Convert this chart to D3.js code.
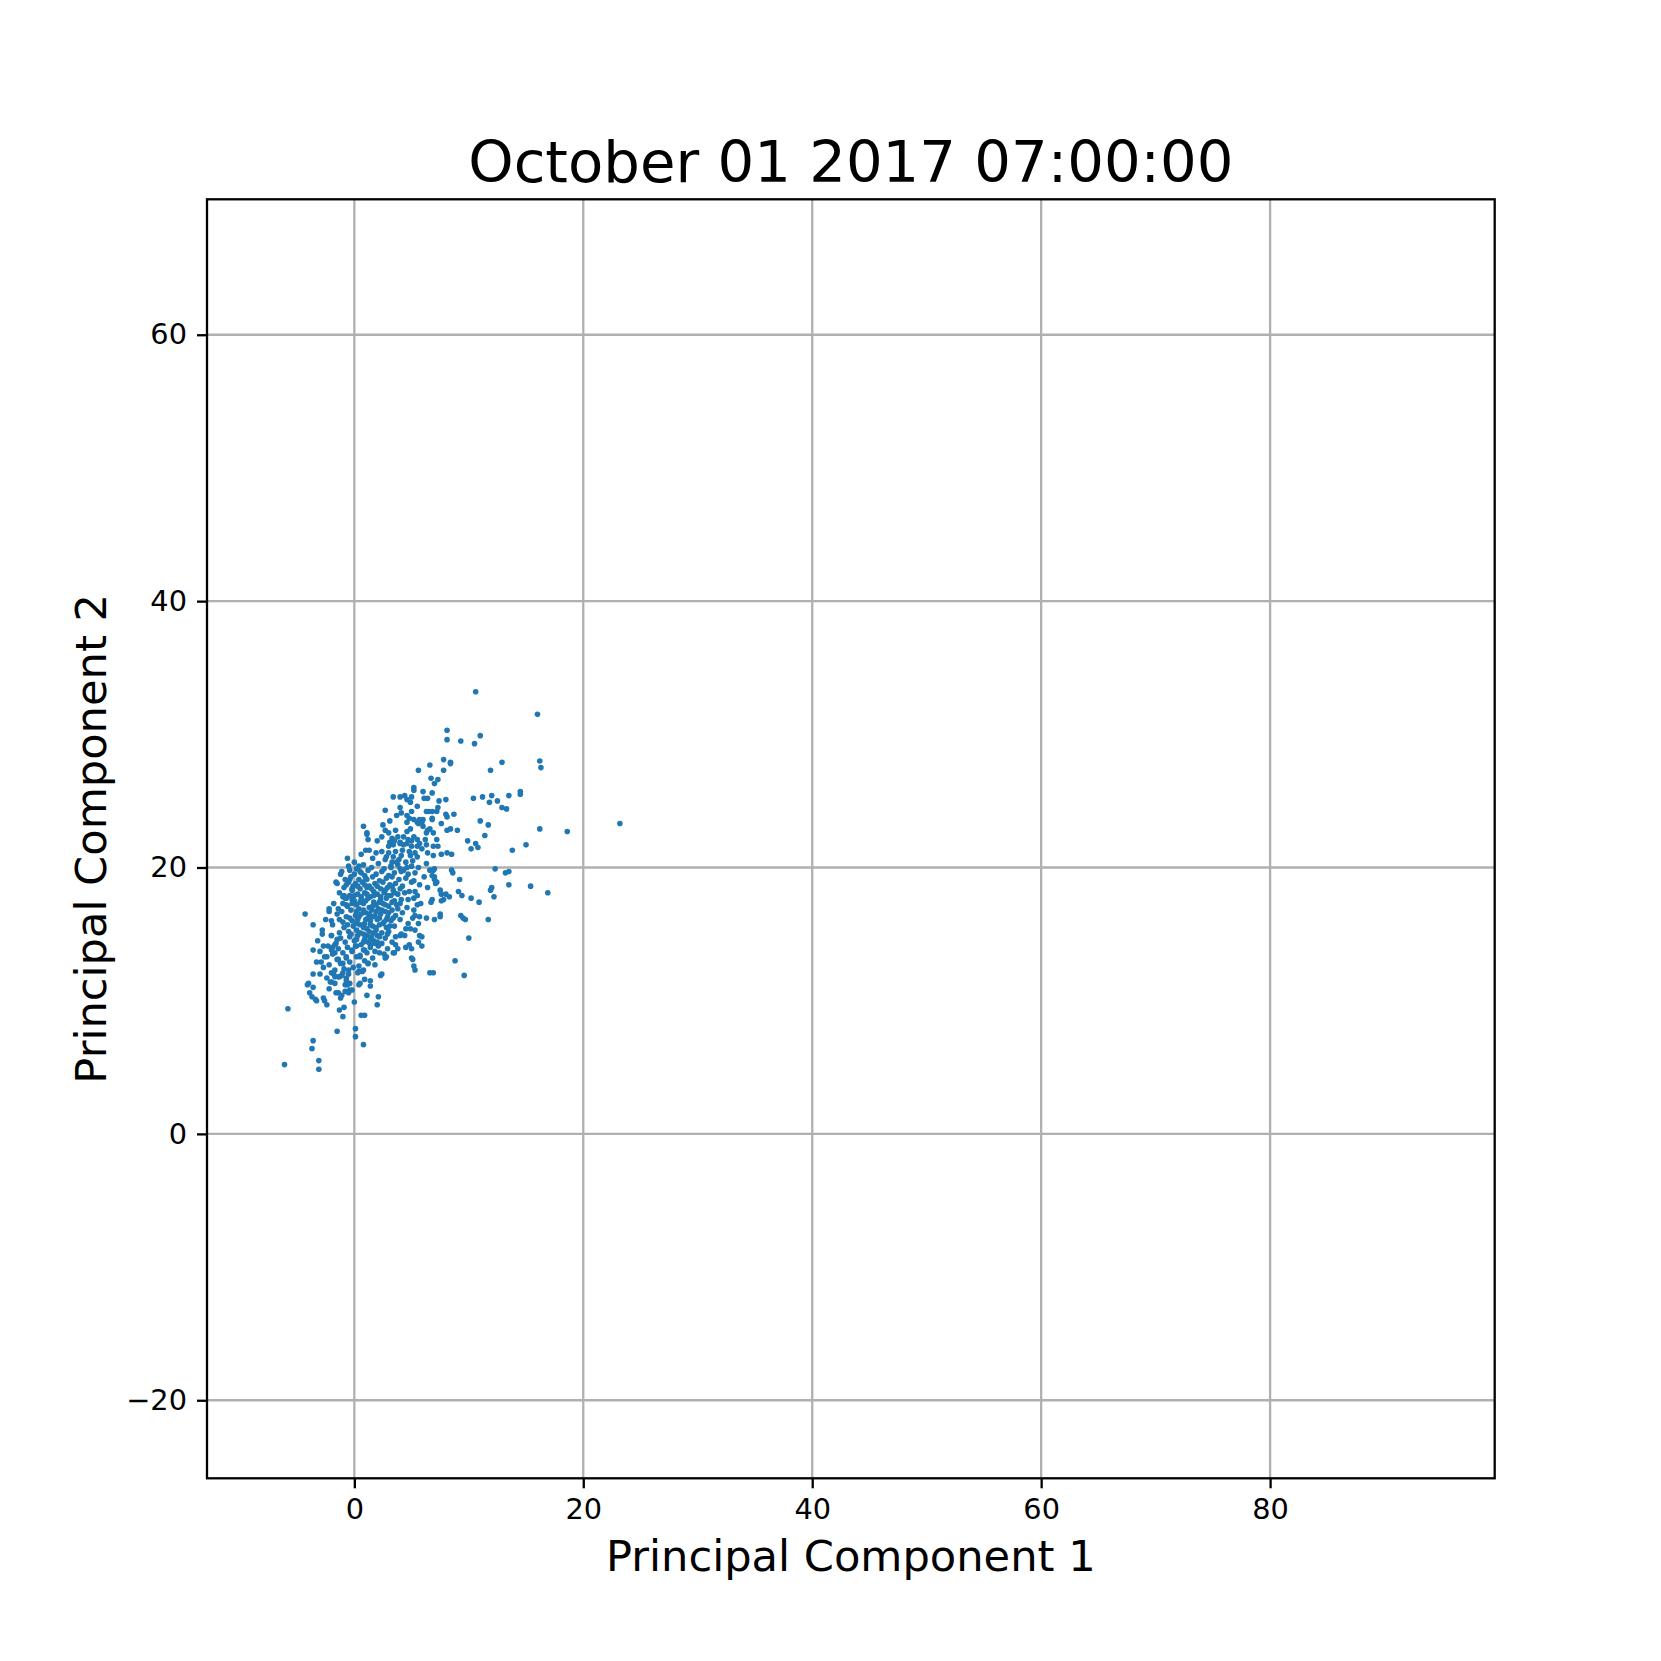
<!DOCTYPE html>
<html>
<head>
<meta charset="utf-8">
<script src="https://cdn.jsdelivr.net/npm/d3@7"></script>
<style>
  html, body { margin: 0; padding: 0; background: #fff; }
  svg { display: block; font-family: "DejaVu Sans", sans-serif; }
</style>
</head>
<body>
<svg id="chart" width="1661" height="1661"></svg>
<script>
// ---- Data (PC1, PC2) ----
const titleText = "October 01 2017 07:00:00";
const xLabelText = "Principal Component 1";
const yLabelText = "Principal Component 2";
const xTicks = [0, 20, 40, 60, 80];
const yTicks = [-20, 0, 20, 40, 60];
const xDomain = [-12.87, 99.62];
const yDomain = [-25.86, 70.17];

const pointsUpper = [
  [10.6,33.2],[16.0,31.5],[8.1,30.3],[8.1,29.6],[9.3,29.5],[10.5,29.3],[11.0,29.9],[7.8,28.1],[8.4,27.9],[8.4,27.8],
  [12.9,27.9],[11.9,27.3],[16.2,28.0],[16.3,27.5],[6.6,27.7],[5.6,27.3],[7.8,27.3],[6.7,26.7],[7.3,26.6],[7.0,26.3],
  [5.2,26.0],[5.2,25.8],[6.0,25.7],[6.8,25.6],[14.5,25.7],[14.5,25.5],[13.5,25.4],[10.4,25.2],[11.2,25.3],[12.0,25.4],
  [11.8,24.9],[12.5,25.0],[12.9,24.5],[13.3,24.4],[6.1,25.2],[6.4,25.2],[7.4,25.0],[8.0,25.1],[8.7,24.0],[8.1,23.8],
  [7.6,23.3],[8.1,22.8],[8.4,22.9],[9.0,22.8],[11.0,23.5],[11.7,23.2],[11.4,22.4],[16.2,22.9],[18.6,22.7],[23.2,23.3],
  [9.9,22.0],[10.6,21.8],[10.8,21.5],[10.2,21.4],[15.0,21.7],[13.8,21.3],[7.6,21.0],[8.1,21.1],[8.5,21.0]
];

const pointsRight = [
  [8.5,19.8],[9.2,19.1],[12.3,19.9],[13.2,19.6],[13.5,19.7],[13.5,18.7],[15.4,18.6],[16.9,18.1],[12.0,18.5],[11.9,18.3],
  [12.2,17.8],[9.1,18.2],[9.4,17.9],[10.2,17.7],[10.9,17.4],[7.5,18.3],[8.0,18.0],[8.3,17.8],[7.8,17.6],[7.6,17.5],
  [7.5,16.3],[9.3,16.4],[9.5,16.2],[9.7,16.1],[11.7,16.1],[10.0,14.7],[8.8,13.0],[9.6,11.9],[6.8,17.6],[7.0,19.3],
  [7.0,19.1],[7.2,18.9],[6.6,19.8],[6.9,19.8],[5.3,18.2],[5.2,17.7],[4.7,17.6],[5.3,16.4],[5.7,16.3],[6.3,16.2],
  [7.0,16.1],[4.7,15.8],[4.9,15.4],[4.4,14.9],[4.0,14.9],[5.7,14.9],[5.6,14.4],[5.5,17.2],[5.2,16.8],[3.4,13.6],
  [3.8,13.9],[2.7,13.2],[5.0,13.9],[5.0,13.2],[5.1,13.1],[5.2,12.6],[5.3,12.3],[5.9,14.1],[6.6,12.1],[6.9,12.1],
  [3.6,14.2],[3.5,13.6],[4.5,14.0],[5.9,14.8],[2.4,12.0],[2.3,11.9],[1.8,12.7]
];

const pointsLower = [
  [-4.3,16.5],[-3.6,15.7],[-2.2,16.7],[-2.0,16.0],[-1.4,16.9],[-1.3,16.1],[-1.0,17.3],[-0.7,17.7],[-0.9,17.9],[-2.8,15.0],
  [-2.0,14.9],[-1.5,14.6],[-1.7,14.2],[-3.6,13.8],[-2.7,14.1],[-2.9,12.9],[-2.4,13.3],[-2.0,13.8],[-3.6,12.0],[-3.0,12.0],
  [-4.1,11.2],[-3.6,11.0],[-3.9,10.6],[-3.7,10.3],[-3.4,10.1],[-2.7,10.2],[-2.4,9.7],[-2.0,11.4],[-1.7,11.8],[-1.3,11.8],
  [-2.2,10.9],[-1.4,10.6],[-1.1,10.4],[-1.2,10.2],[-0.8,10.7],[-0.6,11.2],[-0.4,10.8],[-1.3,9.3],[-0.9,9.5],[-1.0,8.8],
  [-1.5,7.7],[0.0,9.9],[0.4,11.2],[1.1,10.4],[2.0,9.7],[2.1,10.3],[1.4,11.1],[1.4,11.5],[0.6,8.9],[0.9,8.9],
  [0.1,7.9],[0.1,7.3],[0.8,6.7],[-3.6,7.0],[-3.7,6.4],[-3.1,5.5],[-3.1,4.85],[-6.1,5.2],[-5.8,9.4],[-2.6,10.0],
  [-1.6,10.6],[-0.5,10.6],[-0.2,10.8],[-4.0,11.3],[-3.3,10.0],
  [-1.9,14.0],[-1.7,13.6],[-1.4,13.1],[-1.0,12.8],[-0.7,13.3],[-0.2,13.8],[0.2,14.1],[0.5,13.3],[0.9,13.8],[1.4,14.2],
  [1.8,14.3],[2.2,13.6],[2.8,13.3],[1.2,12.8],[0.8,12.3],[0.4,12.2],[-0.5,12.3],[-1.0,12.1],[-1.4,11.8],[-0.7,11.7],
  [-1.8,12.0],[-2.1,11.4],[-1.7,11.3],[-0.8,11.2],[-0.4,11.3],[0.5,11.3]
];

const pointsMid = [
  [3.4,25.3],[4.0,25.3],[4.4,25.4],[4.6,25.1],[4.9,24.9],[5.0,25.3],[2.7,24.3],[3.7,23.9],[4.1,24.1],[4.6,23.9],
  [4.8,23.7],[5.0,24.2],[5.2,23.6],[5.5,23.4],[5.7,23.6],[6.0,23.6],[6.5,24.2],[6.8,23.6],[7.2,24.2],[6.3,24.2],
  [6.8,24.2],[7.3,24.5],[8.0,24.0],[6.8,23.7],[0.8,23.1],[1.1,22.6],[1.2,22.1],[2.5,23.2],[2.7,22.8],[2.4,22.3],
  [3.0,22.6],[3.3,22.2],[3.1,21.9],[3.6,22.8],[3.8,22.3],[4.0,21.9],[4.3,22.3],[4.6,22.7],[4.9,22.9],[4.7,22.1],
  [5.2,22.3],[5.5,22.1],[5.7,21.8],[6.2,22.1],[6.3,22.6],[6.6,22.9],[6.9,22.6],[7.2,22.1],[5.6,23.3],[6.0,23.1],
  [6.4,22.8],[1.1,22.5],[1.0,21.3],[1.3,21.3],[1.6,20.7],[2.4,21.2],[3.0,21.6],[3.4,21.7],[4.0,21.8],[4.6,21.8],
  [5.0,21.6],[5.5,21.6],[5.9,21.4],[6.3,21.7],[6.9,21.6],[7.3,21.6],[6.4,21.1],[6.9,20.9],[2.8,20.8],[3.4,20.8],
  [4.1,20.9],[4.9,20.9],[5.5,20.8],[3.7,20.4],[-0.6,20.7],[-1.2,19.5],[-0.4,19.8],[0.4,20.1],[0.0,20.4],[0.5,19.7],
  [0.9,19.4],[1.1,19.1],[-0.5,18.9],[-1.5,18.8],[-0.1,18.6],[-0.8,19.1],[-0.4,19.1],[-0.2,18.4],[-1.0,17.8],[-0.7,17.2],
  [-0.2,17.6],[0.6,21.0],[1.9,21.1],[2.0,22.0],[3.1,23.5],[4.6,23.4],[5.9,23.4],[4.0,24.5],[5.5,24.6]
];

const pointsCore = [
  [-0.5,20.1],[0.2,19.9],[0.8,20.2],[1.5,20.0],[2.1,20.3],[2.6,19.9],[3.2,20.1],[3.8,20.2],[4.3,19.8],[5.0,20.1],[5.6,20.0],[6.3,20.3],[7.0,19.9],
  [-1.1,19.7],[0.0,19.5],[0.6,19.6],[1.2,19.8],[1.9,19.5],[2.4,19.7],[3.0,19.4],[3.5,19.6],[4.1,19.7],[4.7,19.5],[5.3,19.6],[6.8,19.4],[8.6,19.6],
  [-0.3,19.3],[0.4,19.1],[1.0,19.2],[1.6,19.3],[2.2,19.0],[2.8,19.2],[3.3,19.3],[3.9,19.1],[4.5,19.2],[5.2,19.0],[6.1,19.3],
  [-1.6,18.9],[-0.7,18.7],[0.1,18.8],[0.7,18.9],[1.3,18.6],[1.8,18.8],[2.5,18.9],[3.1,18.7],[3.6,18.8],[4.2,18.6],[5.0,18.9],[5.7,18.7],[7.1,18.8],
  [-0.9,18.5],[-0.2,18.3],[0.5,18.4],[1.1,18.5],[1.7,18.2],[2.3,18.4],[2.9,18.5],[3.4,18.3],[4.0,18.4],[4.8,18.2],[6.4,18.5],
  [-1.3,18.1],[-0.4,17.9],[0.3,18.0],[0.9,18.1],[1.4,17.8],[2.0,18.0],[2.6,18.1],[3.2,17.9],[3.8,18.0],[4.4,18.1],[5.5,17.9],[7.6,18.0],
  [-0.8,17.7],[0.0,17.5],[0.6,17.6],[1.2,17.7],[1.7,17.4],[2.3,17.6],[2.8,17.7],[3.5,17.5],[4.1,17.6],[6.7,17.4],
  [-1.8,17.3],[-0.6,17.1],[0.2,17.2],[0.8,17.3],[1.3,17.0],[1.9,17.2],[2.5,17.3],[3.0,17.1],[3.7,17.2],[4.6,17.0],[5.8,17.3],
  [-2.2,16.9],[-1.1,16.7],[-0.3,16.8],[0.4,16.9],[1.0,16.6],[1.5,16.8],[2.1,16.9],[2.7,16.7],[3.3,16.8],[4.2,16.6],
  [-1.5,16.5],[-0.7,16.3],[0.1,16.4],[0.6,16.5],[1.2,16.2],[1.8,16.4],[2.3,16.5],[2.9,16.3],[3.6,16.4],[5.1,16.2],[7.5,16.5],
  [-2.5,16.1],[-1.0,15.9],[-0.2,16.0],[0.3,16.1],[0.9,15.8],[1.4,16.0],[2.0,16.1],[2.6,15.9],[3.2,16.0],[4.0,16.1],[5.6,15.8],
  [-1.9,15.7],[-0.9,15.5],[-0.1,15.6],[0.5,15.7],[1.1,15.4],[1.6,15.6],[2.2,15.7],[2.8,15.5],[3.5,15.6],[4.5,15.4],
  [-2.8,15.3],[-1.3,15.1],[-0.5,15.2],[0.2,15.3],[0.8,15.0],[1.3,15.2],[1.9,15.3],[2.4,15.1],[3.0,15.2],[4.1,15.0],[5.3,15.3],
  [-2.0,14.9],[-1.2,14.7],[-0.4,14.8],[0.3,14.9],[0.9,14.6],[1.5,14.8],[2.0,14.9],[2.7,14.7],[3.6,14.8],
  [-3.2,14.5],[-1.6,14.3],[-0.8,14.4],[0.0,14.5],[0.6,14.2],[1.2,14.4],[1.7,14.5],[2.4,14.3],[3.3,14.4],[4.8,14.2],
  [-2.3,14.1],[-1.4,13.9],[-0.6,14.0],[0.1,14.1],[0.8,13.8],[1.4,14.0],[2.1,14.1],[2.9,13.9],
  [-3.0,13.7],[-1.9,13.5],[-1.0,13.6],[-0.2,13.7],[0.5,13.4],[1.1,13.6],[1.8,13.7],[2.6,13.5],
  [-2.6,13.3],[-1.5,13.1],[-0.7,13.2],[0.2,13.3],[0.9,13.0],[1.6,13.2],
  [-3.3,12.9],[-2.2,12.7],[-1.2,12.8],[-0.4,12.9],[0.4,12.6],[1.2,12.8],
  [-2.7,12.5],[-1.7,12.3],[-0.9,12.4],[-0.1,12.5],[0.7,12.2],
  [-2.0,12.1],[-1.1,11.9],[-0.5,12.0],[0.3,12.1],
  [-2.4,11.7],[-0.7,11.5],[0.9,11.6]
];

const pointsDense = [
  [0.3,18.6],[0.9,18.7],[1.5,18.4],[2.0,18.6],[2.7,18.3],[3.3,18.6],
  [0.0,17.9],[0.6,17.8],[1.1,18.0],[1.7,17.9],[2.3,17.8],[2.9,17.9],[3.5,18.1],
  [-0.2,17.3],[0.5,17.4],[1.0,17.5],[1.6,17.1],[2.2,17.4],[2.7,17.2],[3.3,17.4],[4.0,17.3],
  [0.2,16.7],[0.8,16.8],[1.3,16.5],[1.9,16.7],[2.4,16.8],[3.0,16.6],[3.8,16.9],
  [-0.4,16.2],[0.4,16.3],[1.0,16.1],[1.6,16.3],[2.2,16.2],[2.8,16.1],[3.4,16.2],
  [-0.6,15.7],[0.2,15.8],[0.8,15.5],[1.4,15.7],[1.9,15.5],[2.5,15.8],[3.1,15.6],
  [-0.3,15.0],[0.5,15.1],[1.1,14.9],[1.7,15.1],[2.2,14.8],[2.9,15.0],
  [0.2,14.6],[0.8,14.4],[1.4,14.6],[2.0,14.4],
  [2.7,20.6],[3.3,20.4],[3.9,20.6],[4.5,20.4],[5.1,20.5],
  [3.0,21.1],[3.6,21.2],[4.2,21.3],[4.8,21.2],[5.3,21.1],
  [3.2,20.0],[4.0,19.9],[4.6,20.0],
  [3.5,22.0],[4.3,21.7],[5.0,22.0]
];

const allPoints = [].concat(pointsUpper, pointsRight, pointsLower, pointsMid, pointsCore, pointsDense);

// ---- Layout ----
const svg = d3.select("#chart");
const plotLeft = 207, plotRight = 1494.7, plotTop = 199.3, plotBottom = 1478.3;

const xScale = d3.scaleLinear().domain(xDomain).range([plotLeft, plotRight]);
const yScale = d3.scaleLinear().domain(yDomain).range([plotBottom, plotTop]);

const gridColor = "#b0b0b0";
const lw = 2.3;

// gridlines
svg.append("g").selectAll("line").data(xTicks).join("line")
  .attr("x1", d => xScale(d)).attr("x2", d => xScale(d))
  .attr("y1", plotTop).attr("y2", plotBottom)
  .attr("stroke", gridColor).attr("stroke-width", lw);
svg.append("g").selectAll("line").data(yTicks).join("line")
  .attr("y1", d => yScale(d)).attr("y2", d => yScale(d))
  .attr("x1", plotLeft).attr("x2", plotRight)
  .attr("stroke", gridColor).attr("stroke-width", lw);

// points
svg.append("g").selectAll("circle").data(allPoints).join("circle")
  .attr("cx", d => xScale(d[0]))
  .attr("cy", d => yScale(d[1]))
  .attr("r", 2.8)
  .attr("fill", "#1f77b4");

// axes
const xAxis = d3.axisBottom(xScale).tickValues(xTicks).tickSize(10).tickPadding(10).tickFormat(d3.format("d"));
const yAxis = d3.axisLeft(yScale).tickValues(yTicks).tickSize(10).tickPadding(10).tickFormat(d3.format("d"));

const gx = svg.append("g").attr("transform", `translate(0,${plotBottom})`).call(xAxis);
const gy = svg.append("g").attr("transform", `translate(${plotLeft},0)`).call(yAxis);
[gx, gy].forEach(g => {
  g.select(".domain").remove();
  g.selectAll(".tick line").attr("stroke", "#000").attr("stroke-width", lw);
  g.selectAll(".tick text").attr("fill", "#000")
    .style("font-family", "'DejaVu Sans', sans-serif").style("font-size", "28.8px");
});

// frame (spines)
svg.append("rect")
  .attr("x", plotLeft).attr("y", plotTop)
  .attr("width", plotRight - plotLeft).attr("height", plotBottom - plotTop)
  .attr("fill", "none").attr("stroke", "#000").attr("stroke-width", lw);

// title & labels
const midX = (plotLeft + plotRight) / 2, midY = (plotTop + plotBottom) / 2;
svg.append("text").attr("x", midX).attr("y", 182)
  .attr("text-anchor", "middle").style("font-size", "57.7px").text(titleText);
svg.append("text").attr("x", midX).attr("y", 1571)
  .attr("text-anchor", "middle").style("font-size", "43.2px").text(xLabelText);
svg.append("text").attr("transform", `translate(106,${midY}) rotate(-90)`)
  .attr("text-anchor", "middle").style("font-size", "43.2px").text(yLabelText);
</script>
</body>
</html>
